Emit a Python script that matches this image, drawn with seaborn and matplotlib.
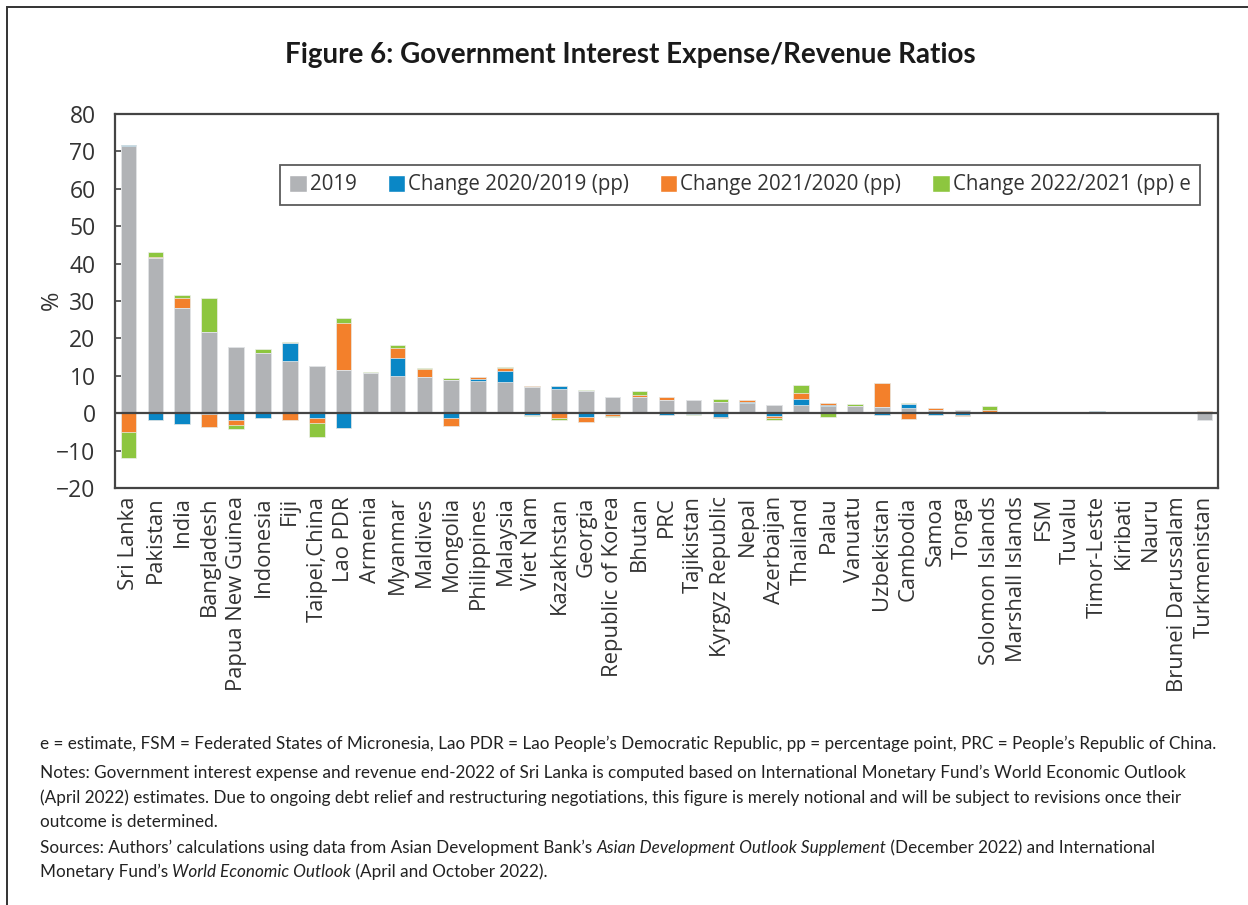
import numpy as np
import pandas as pd
import matplotlib
matplotlib.use("Agg")
import matplotlib.pyplot as plt
import seaborn as sns
from matplotlib.patches import Patch, Rectangle
from matplotlib import font_manager

countries = ["Sri Lanka", "Pakistan", "India", "Bangladesh", "Papua New Guinea",
             "Indonesia", "Fiji", "Taipei,China", "Lao PDR", "Armenia", "Myanmar",
             "Maldives", "Mongolia", "Philippines", "Malaysia", "Viet Nam",
             "Kazakhstan", "Georgia", "Republic of Korea", "Bhutan", "PRC",
             "Tajikistan", "Kyrgyz Republic", "Nepal", "Azerbaijan", "Thailand",
             "Palau", "Vanuatu", "Uzbekistan", "Cambodia", "Samoa", "Tonga",
             "Solomon Islands", "Marshall Islands", "FSM", "Tuvalu", "Timor-Leste",
             "Kiribati", "Nauru", "Brunei Darussalam", "Turkmenistan"]

ratio_2019 = [71.5, 41.5, 28.2, 21.6, 17.7, 16.1, 13.9, 12.7, 11.5, 10.7, 9.9,
              9.8, 8.9, 8.6, 8.3, 7.0, 6.5, 5.9, 4.3, 4.3, 3.6,
              3.5, 3.0, 2.7, 2.2, 2.2, 1.8, 1.8, 1.7, 1.4, 0.9, 0.8,
              0.4, 0.1, 0.1, 0.0, 0.0, 0.0, 0.0, 0.0, -1.8]
chg_2020 = [0.2, -1.9, -2.8, -0.3, -1.7, -1.4, 4.9, -1.4, -4.0, 0.1, 4.9,
            0.0, -1.4, 0.5, 2.9, -0.5, 0.9, -1.0, -0.3, 0.0, -0.4,
            -0.2, -1.0, 0.35, -0.7, 1.5, 0.4, 0.0, -0.4, 1.1, -0.5, -0.5,
            0.0, 0.0, 0.0, 0.35, 0.6, 0.0, 0.0, 0.0, 0.0]
chg_2021 = [-5.0, 0.3, 2.7, -3.3, -1.4, 0.0, -1.7, -1.1, 12.6, 0.0, 2.7,
            2.0, -2.0, 0.5, 0.9, 0.3, -1.4, -1.4, -0.4, 0.6, 0.6,
            0.0, -0.2, 0.5, -0.5, 1.8, 0.6, 0.0, 6.3, -1.5, 0.5, -0.2,
            0.35, 0.0, 0.0, 0.0, 0.0, 0.2, 0.2, 0.0, 0.6]
chg_2022 = [-7.0, 1.2, 0.8, 9.2, -1.0, 1.1, 0.3, -3.9, 1.3, 0.2, 0.7,
            0.2, 0.5, 0.1, 0.2, -0.35, -0.3, 0.3, -0.3, 1.1, 0.0,
            -0.4, 0.9, 0.1, -0.5, 2.0, -1.0, 0.7, 0.0, 0.1, -0.1, 0.0,
            1.1, 0.3, 0.3, 0.0, 0.0, 0.2, 0.2, 0.0, 0.0]

series_labels = ["2019", "Change 2020/2019 (pp)", "Change 2021/2020 (pp)",
                 "Change 2022/2021 (pp) e"]
series_colors = ["#B1B3B6", "#0A87C6", "#F3802B", "#8DC63F"]

title = "Figure 6: Government Interest Expense/Revenue Ratios"

sns.set_style("white")
avail = {f.name for f in font_manager.fontManager.ttflist}
main_font = "Open Sans" if "Open Sans" in avail else "DejaVu Sans"
note_font = "Lato"
plt.rcParams["font.family"] = [main_font, "DejaVu Sans"]
text_color = "#333333"

fig = plt.figure(figsize=(12.48, 9.05), dpi=100)
ax = fig.add_axes([115 / 1248, 1 - 488 / 905, 1103 / 1248, 374 / 905])

# stack: positives upward, negatives downward, in series order
series = np.array([ratio_2019, chg_2020, chg_2021, chg_2022])
pos_cum = np.cumsum(np.clip(series, 0, None), axis=0)
neg_cum = np.cumsum(np.clip(series, None, 0), axis=0)

for i in range(3, -1, -1):
    for cum in (pos_cum, neg_cum):
        df = pd.DataFrame({"country": countries, "value": cum[i]})
        sns.barplot(data=df, x="country", y="value", order=countries,
                    color=series_colors[i], saturation=1, width=0.58,
                    edgecolor="#eeeeee", linewidth=0.5, ax=ax)

ax.axhline(0, color="#444444", lw=1.6, zorder=5)
ax.set_xlim(-0.5, len(countries) - 0.5)
ax.set_ylim(-20, 80)
ax.set_yticks(range(-20, 81, 10))
ax.set_xlabel("")
ax.set_ylabel("%", fontsize=17, color=text_color)
ax.yaxis.set_label_coords(-0.046, 0.503)
ax.tick_params(axis="y", direction="in", length=4, width=1.2, pad=14,
               labelsize=16.5, labelcolor=text_color, color="#444444", left=True)
ax.tick_params(axis="x", length=0, pad=6, labelsize=15.8, labelcolor=text_color,
               labelrotation=90)
for s in ax.spines.values():
    s.set_color("#444444")
    s.set_linewidth(1.6)

handles = [Patch(facecolor=c, label=l) for c, l in zip(series_colors, series_labels)]
leg = ax.legend(handles=handles, loc="upper left", bbox_to_anchor=(0.1496, 0.8636),
                borderaxespad=0, ncol=4, frameon=True, fancybox=False,
                edgecolor="#333333", fontsize=14.8, handlelength=0.85,
                handleheight=0.9, handletextpad=0.15, columnspacing=1.5,
                borderpad=0.45, labelcolor=text_color)
leg.get_frame().set_linewidth(1.3)

fig.text(630 / 1248, 1 - 55 / 905, title, ha="center", va="center",
         fontsize=20, fontweight="bold", family=["Lato", "DejaVu Sans"],
         color="#1a1a1a")

# outer frame
fig.patches.append(Rectangle((7 / 1248, -0.1), 1.2, 1.1 - 7 / 905,
                             transform=fig.transFigure, fill=False,
                             lw=1.4, ec="#333333"))

# notes with italic segments
notes = [
    [("e = estimate, FSM = Federated States of Micronesia, Lao PDR = Lao People\u2019s Democratic Republic, pp = percentage point, PRC = People\u2019s Republic of China.", "normal")],
    [("Notes: Government interest expense and revenue end-2022 of Sri Lanka is computed based on International Monetary Fund\u2019s World Economic Outlook", "normal")],
    [("(April 2022) estimates. Due to ongoing debt relief and restructuring negotiations, this figure is merely notional and will be subject to revisions once their", "normal")],
    [("outcome is determined.", "normal")],
    [("Sources: Authors\u2019 calculations using data from Asian Development Bank\u2019s ", "normal"),
     ("Asian Development Outlook Supplement", "italic"),
     (" (December 2022) and International", "normal")],
    [("Monetary Fund\u2019s ", "normal"), ("World Economic Outlook", "italic"),
     (" (April and October 2022).", "normal")],
]
note_y = [744, 773, 798, 822, 848, 872]
renderer = fig.canvas.get_renderer()
for parts, yy in zip(notes, note_y):
    x = 40 / 1248
    for txt, style in parts:
        t = fig.text(x, 1 - yy / 905, txt, ha="left", va="center", fontsize=12.3,
                     style=style, family=[note_font, "DejaVu Sans"], color="#222222")
        w = t.get_window_extent(renderer=renderer).width
        x += w / 1248

fig.savefig("out.png", dpi=100)
